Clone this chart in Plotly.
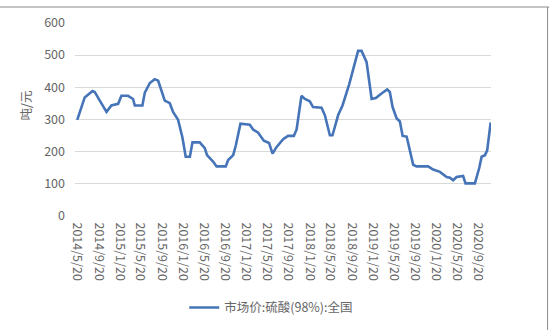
import plotly.graph_objects as go

dates = [
    "2014-05-20", "2014-07-02", "2014-08-16", "2014-08-29", "2014-09-27", "2014-11-05",
    "2014-12-03", "2015-01-11", "2015-01-30", "2015-03-09", "2015-04-07", "2015-04-17",
    "2015-05-31", "2015-06-14", "2015-07-13", "2015-08-10", "2015-08-30", "2015-10-07",
    "2015-11-05", "2015-11-24", "2015-12-23", "2016-01-17", "2016-02-05", "2016-02-29",
    "2016-03-15", "2016-04-26", "2016-05-25", "2016-06-07", "2016-07-12", "2016-08-01",
    "2016-09-23", "2016-10-07", "2016-11-05", "2016-11-20", "2016-12-17", "2017-02-09",
    "2017-02-28", "2017-03-29", "2017-05-01", "2017-05-31", "2017-06-20", "2017-07-13",
    "2017-08-20", "2017-09-18", "2017-10-21", "2017-11-06", "2017-12-04", "2017-12-24",
    "2018-01-21", "2018-02-09", "2018-03-30", "2018-04-18", "2018-05-17", "2018-06-01",
    "2018-07-04", "2018-07-29", "2018-09-05", "2018-10-08", "2018-10-27", "2018-11-16",
    "2018-12-15", "2019-01-13", "2019-02-06", "2019-03-11", "2019-04-13", "2019-04-28",
    "2019-05-14", "2019-06-06", "2019-06-25", "2019-07-11", "2019-08-03", "2019-09-10",
    "2019-09-29", "2019-12-05", "2020-01-03", "2020-02-11", "2020-03-21", "2020-04-09",
    "2020-04-28", "2020-05-17", "2020-06-24", "2020-07-08", "2020-08-31", "2020-09-25",
    "2020-10-09", "2020-10-28", "2020-11-10", "2020-11-30",
]
prices = [
    298, 368, 388, 385, 358, 323,
    343, 348, 373, 373, 363, 343,
    343, 383, 413, 425, 420, 358,
    350, 323, 298, 243, 183, 183,
    228, 228, 210, 188, 168, 153,
    153, 173, 188, 218, 286, 283,
    268, 258, 233, 226, 193, 213,
    238, 248, 248, 268, 373, 363,
    356, 338, 336, 313, 250, 250,
    313, 343, 408, 473, 513, 513,
    478, 363, 366, 380, 393, 385,
    338, 303, 293, 248, 246, 158,
    153, 153, 143, 136, 120, 118,
    110, 120, 123, 100, 100, 148,
    183, 188, 203, 290,
]

tick_dates = [
    "2014-05-20", "2014-09-20", "2015-01-20", "2015-05-20", "2015-09-20",
    "2016-01-20", "2016-05-20", "2016-09-20", "2017-01-20", "2017-05-20",
    "2017-09-20", "2018-01-20", "2018-05-20", "2018-09-20", "2019-01-20",
    "2019-05-20", "2019-09-20", "2020-01-20", "2020-05-20", "2020-09-20",
]
tick_labels = [
    "2014/5/20", "2014/9/20", "2015/1/20", "2015/5/20", "2015/9/20",
    "2016/1/20", "2016/5/20", "2016/9/20", "2017/1/20", "2017/5/20",
    "2017/9/20", "2018/1/20", "2018/5/20", "2018/9/20", "2019/1/20",
    "2019/5/20", "2019/9/20", "2020/1/20", "2020/5/20", "2020/9/20",
]
y_ticks = [0, 100, 200, 300, 400, 500, 600]
series_name = "市场价:硫酸(98%):全国"
y_title = "吨/元"

font_family = "Noto Sans CJK SC, Noto Sans, sans-serif"
gray = "#666666"

fig = go.Figure()
fig.add_trace(go.Scatter(
    x=dates, y=prices, mode="lines", name=series_name,
    line=dict(color="#4674b8", width=2.6),
))

fig.update_layout(
    width=550, height=330,
    margin=dict(l=75, r=59, t=17, b=114),
    paper_bgcolor="white", plot_bgcolor="white",
    font=dict(family=font_family, size=12, color=gray),
    showlegend=True,
    legend=dict(
        orientation="h", xref="container", yref="container",
        x=0.335, y=0.067, xanchor="left", yanchor="middle",
        font=dict(size=12.5, color=gray), bgcolor="rgba(0,0,0,0)",
    ),
    xaxis=dict(
        type="date", range=["2014-05-07", "2020-12-02"],
        tickmode="array", tickvals=tick_dates, ticktext=tick_labels,
        tickangle=90, showgrid=False, zeroline=False, showline=False,
        ticks="", ticklabelstandoff=6,
        tickfont=dict(size=12.5, color=gray),
    ),
    yaxis=dict(
        range=[0, 600], tickvals=y_ticks,
        showgrid=True, gridcolor="#d9d9d9", gridwidth=1,
        zeroline=False, showline=False, ticks="",
        ticklabelstandoff=9,
        tickfont=dict(size=12.5, color=gray),
    ),
    annotations=[dict(
        text=y_title, textangle=-90, xref="paper", yref="paper",
        x=-0.12, y=0.572, xanchor="center", yanchor="middle",
        showarrow=False,
        font=dict(size=12.5, color=gray),
    )],
    shapes=[
        dict(type="line", xref="paper", yref="paper", x0=-0.2, x1=1.14,
             y0=1.083, y1=1.083, line=dict(color="#8c8c8c", width=1)),
        dict(type="line", xref="paper", yref="paper", x0=1.136, x1=1.136,
             y0=-0.6, y1=1.083, line=dict(color="#8c8c8c", width=1)),
    ],
)

fig.write_html("out.html")
